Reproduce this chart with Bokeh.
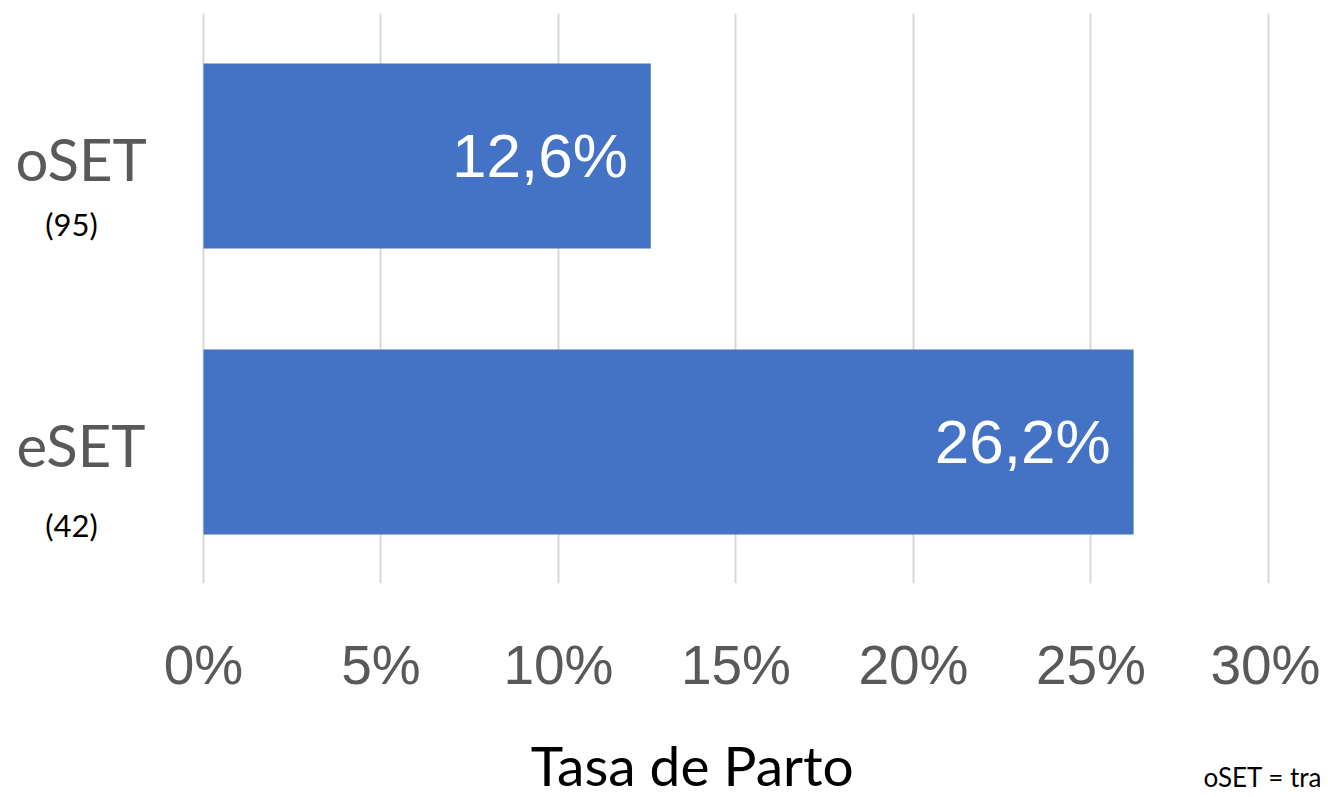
from bokeh.plotting import figure
from bokeh.layouts import column
from bokeh.models import Range1d, FixedTicker, ColumnDataSource
from bokeh.core.properties import value
from bokeh.embed import file_html
from bokeh.resources import INLINE

# ---- data ----
categories = ["oSET", "eSET"]
counts = ["(95)", "(42)"]
rates = [12.6, 26.2]
rate_labels = ["12,6%", "26,2%"]
tick_values = [0, 5, 10, 15, 20, 25, 30]
tick_labels = ["0%", "5%", "10%", "15%", "20%", "25%", "30%"]
x_title = "Tasa de Parto"
note = "oSET = tra"

# ---- layout (not data) ----
W = 1320
ypos = [1, 0]                    # oSET on top
name_off = [0.0105, 0.0087]      # label centre shift below row centre (data units)
count_off = [0.238, 0.290]

x_range = Range1d(-5.718, 31.465)

p = figure(width=W, height=720, output_backend="svg", toolbar_location=None,
           x_range=x_range, y_range=Range1d(-0.495, 1.498),
           y_axis_location=None, min_border_left=0, min_border_right=0,
           min_border_top=13, min_border_bottom=137)
p.outline_line_color = None
p.border_fill_color = "white"

src = ColumnDataSource(dict(y=ypos, right=rates, lab=rate_labels, cat=categories, cnt=counts,
                            ny=[y - o for y, o in zip(ypos, name_off)],
                            cy=[y - o for y, o in zip(ypos, count_off)]))

p.hbar(y="y", left=0, right="right", height=0.647, color="#4472C4", line_color=None, source=src)

p.text(x="right", y="y", text="lab", source=src, text_align="right", text_baseline="middle",
       x_offset=-23, text_color="white", text_font=value("Liberation Sans"),
       text_font_size="62px")

p.text(x=-3.45, y="ny", text="cat", source=src, text_align="center",
       text_baseline="middle", text_color="#595959", text_font=value("Lato"),
       text_font_size="58px")
p.text(x=-3.718, y="cy", text="cnt", source=src, text_align="center",
       text_baseline="middle", text_color="#000000", text_font=value("Lato"),
       text_font_size="31px")

xa = p.xaxis[0]
xa.ticker = FixedTicker(ticks=tick_values)
xa.major_label_overrides = {t: l for t, l in zip(tick_values, tick_labels)}
xa.axis_line_color = None
xa.major_tick_line_color = None
xa.minor_tick_line_color = None
xa.major_label_text_font = "Liberation Sans"
xa.major_label_text_font_size = "55px"
xa.major_label_text_color = "#595959"
xa.major_label_standoff = 44

p.ygrid.grid_line_color = None
p.xgrid.grid_line_color = "#d9d9d9"
p.xgrid.grid_line_width = 2
p.xgrid.ticker = FixedTicker(ticks=tick_values)

# bottom strip with the axis title and the note
H2 = 69
q = figure(width=W, height=H2, output_backend="svg", toolbar_location=None,
           x_range=x_range, y_range=Range1d(0, H2),
           x_axis_location=None, y_axis_location=None,
           min_border_left=0, min_border_right=0, min_border_top=0, min_border_bottom=0)
q.outline_line_color = None
q.xgrid.grid_line_color = None
q.ygrid.grid_line_color = None
q.text(x=[13.77], y=[25], text=[x_title], text_align="center", text_baseline="middle",
       text_font=value("Lato"), text_font_size="55px", text_color="#000000")
q.text(x=[28.17], y=[12.5], text=[note], text_align="left", text_baseline="middle",
       text_font=value("Lato"), text_font_size="26px", text_color="#000000")

layout = column(p, q, spacing=0)
open("out.html", "w").write(file_html(layout, INLINE))
